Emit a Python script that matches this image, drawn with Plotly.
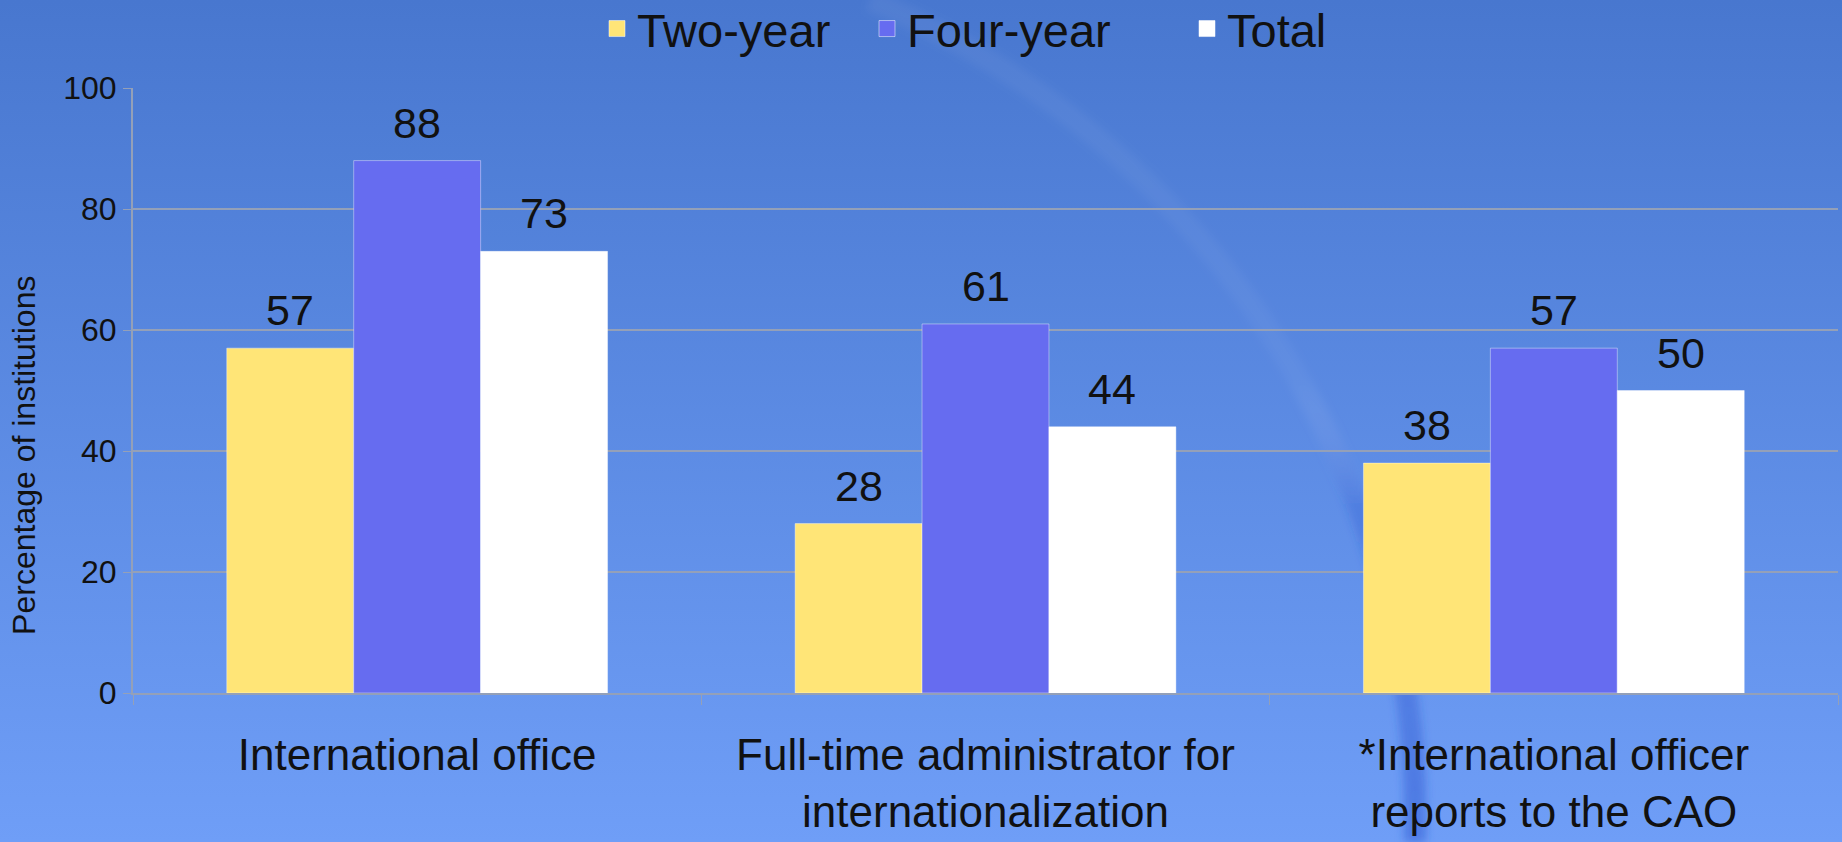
import base64
import plotly.graph_objects as go

categories = [
    "International office",
    "Full-time administrator for<br>internationalization",
    "*International officer<br>reports to the CAO",
]
two_year = [57, 28, 38]
four_year = [88, 61, 57]
total = [73, 44, 50]

y_ticks = [0, 20, 40, 60, 80, 100]

FONT = "Liberation Sans, Arial, sans-serif"
BARGAP = 0.33

# slide-style backdrop: vertical blue gradient plus a faint swoosh arc
bg_svg = """<svg xmlns='http://www.w3.org/2000/svg' width='1842' height='842'>
<defs>
<linearGradient id='g' x1='0' y1='0' x2='0' y2='1'>
<stop offset='0' stop-color='#4877cf'/><stop offset='1' stop-color='#6f9ef7'/>
</linearGradient>
<linearGradient id='s' x1='0' y1='0' x2='0' y2='1'>
<stop offset='0' stop-color='rgba(255,255,255,0.05)'/>
<stop offset='0.45' stop-color='rgba(255,255,255,0.04)'/>
<stop offset='0.6' stop-color='rgba(40,80,205,0.25)'/>
<stop offset='1' stop-color='rgba(40,80,205,0.45)'/>
</linearGradient>
<filter id='b'><feGaussianBlur stdDeviation='4'/></filter>
</defs>
<rect width='1842' height='842' fill='url(#g)'/>
<path d='M 870 0 A 888 888 0 0 1 1415 842' fill='none' stroke='url(#s)'
 stroke-width='22' filter='url(#b)'/>
</svg>"""
bg_uri = "data:image/svg+xml;base64," + base64.b64encode(bg_svg.encode()).decode()

fig = go.Figure()

series = [
    ("Two-year", two_year, "#ffe577", "legend"),
    ("Four-year", four_year, "#666cf0", "legend2"),
    ("Total", total, "#ffffff", "legend3"),
]
n = len(series)
bw = (1 - BARGAP) / n
for k, (name, vals, color, leg) in enumerate(series):
    fig.add_trace(go.Bar(
        x=categories, y=vals, name=name, showlegend=False,
        marker=dict(color=color, line=dict(color="rgba(255,255,255,0.4)", width=1)),
    ))
    # legend entry with a bigger square swatch
    fig.add_trace(go.Scatter(
        x=[None], y=[None], mode="markers", name=name, legend=leg,
        marker=dict(symbol="square", size=16, color=color,
                    line=dict(color="rgba(255,255,255,0.5)", width=1)),
    ))
    # value labels above bars
    off = (k - (n - 1) / 2) * bw
    for i, v in enumerate(vals):
        fig.add_annotation(
            x=i + off, y=v, text=str(v), showarrow=False,
            yanchor="bottom", yshift=12,
            font=dict(size=43, family=FONT, color="#111111"),
        )

# y axis title sits a bit below the axis centre in the original
fig.add_annotation(
    text="Percentage of institutions", textangle=-90, showarrow=False,
    xref="paper", yref="paper", x=-0.0639, y=0.392,
    xanchor="center", yanchor="middle",
    font=dict(size=32, family=FONT, color="#111111"),
)

# plot area in pixels: left 133, right 1838, top 88, bottom 693
pw, ph = 1705, 605
fig.add_layout_image(dict(
    source=bg_uri, xref="paper", yref="paper",
    x=-133 / pw, y=1 + 88 / ph, sizex=1842 / pw, sizey=842 / ph,
    xanchor="left", yanchor="top", sizing="stretch", layer="below",
))


def legend_at(px):
    return dict(
        orientation="h", xref="container", yref="container",
        x=px / 1842, xanchor="left", y=1 - 29 / 842, yanchor="middle",
        font=dict(size=47, family=FONT, color="#111111"),
        bgcolor="rgba(0,0,0,0)", itemwidth=30, itemsizing="trace",
    )


fig.update_layout(
    width=1842, height=842,
    margin=dict(l=133, r=4, t=88, b=149, autoexpand=False),
    paper_bgcolor="#5a8ae3",
    plot_bgcolor="rgba(0,0,0,0)",
    barmode="group",
    bargap=BARGAP,
    bargroupgap=0,
    font=dict(family=FONT, color="#111111"),
    showlegend=True,
    legend=legend_at(597),
    legend2=legend_at(867),
    legend3=legend_at(1187),
    xaxis=dict(
        type="category", automargin=False,
        showline=True, linecolor="#94a0b8", linewidth=2,
        ticks="outside", tickson="boundaries", ticklen=10, tickcolor="#94a0b8",
        tickfont=dict(size=44, family=FONT, color="#111111"),
        ticklabelstandoff=22,
    ),
    yaxis=dict(
        range=[0, 100], tickvals=y_ticks, automargin=False,
        showgrid=True, gridcolor="#94a0b8", gridwidth=2,
        showline=True, linecolor="#94a0b8", linewidth=2,
        ticks="outside", ticklen=8, tickcolor="#94a0b8",
        tickfont=dict(size=32, family=FONT, color="#111111"),
        zeroline=False,
    ),
)

fig.write_html("out.html", config={"displayModeBar": False},
               post_script="document.body.style.margin='0';")
